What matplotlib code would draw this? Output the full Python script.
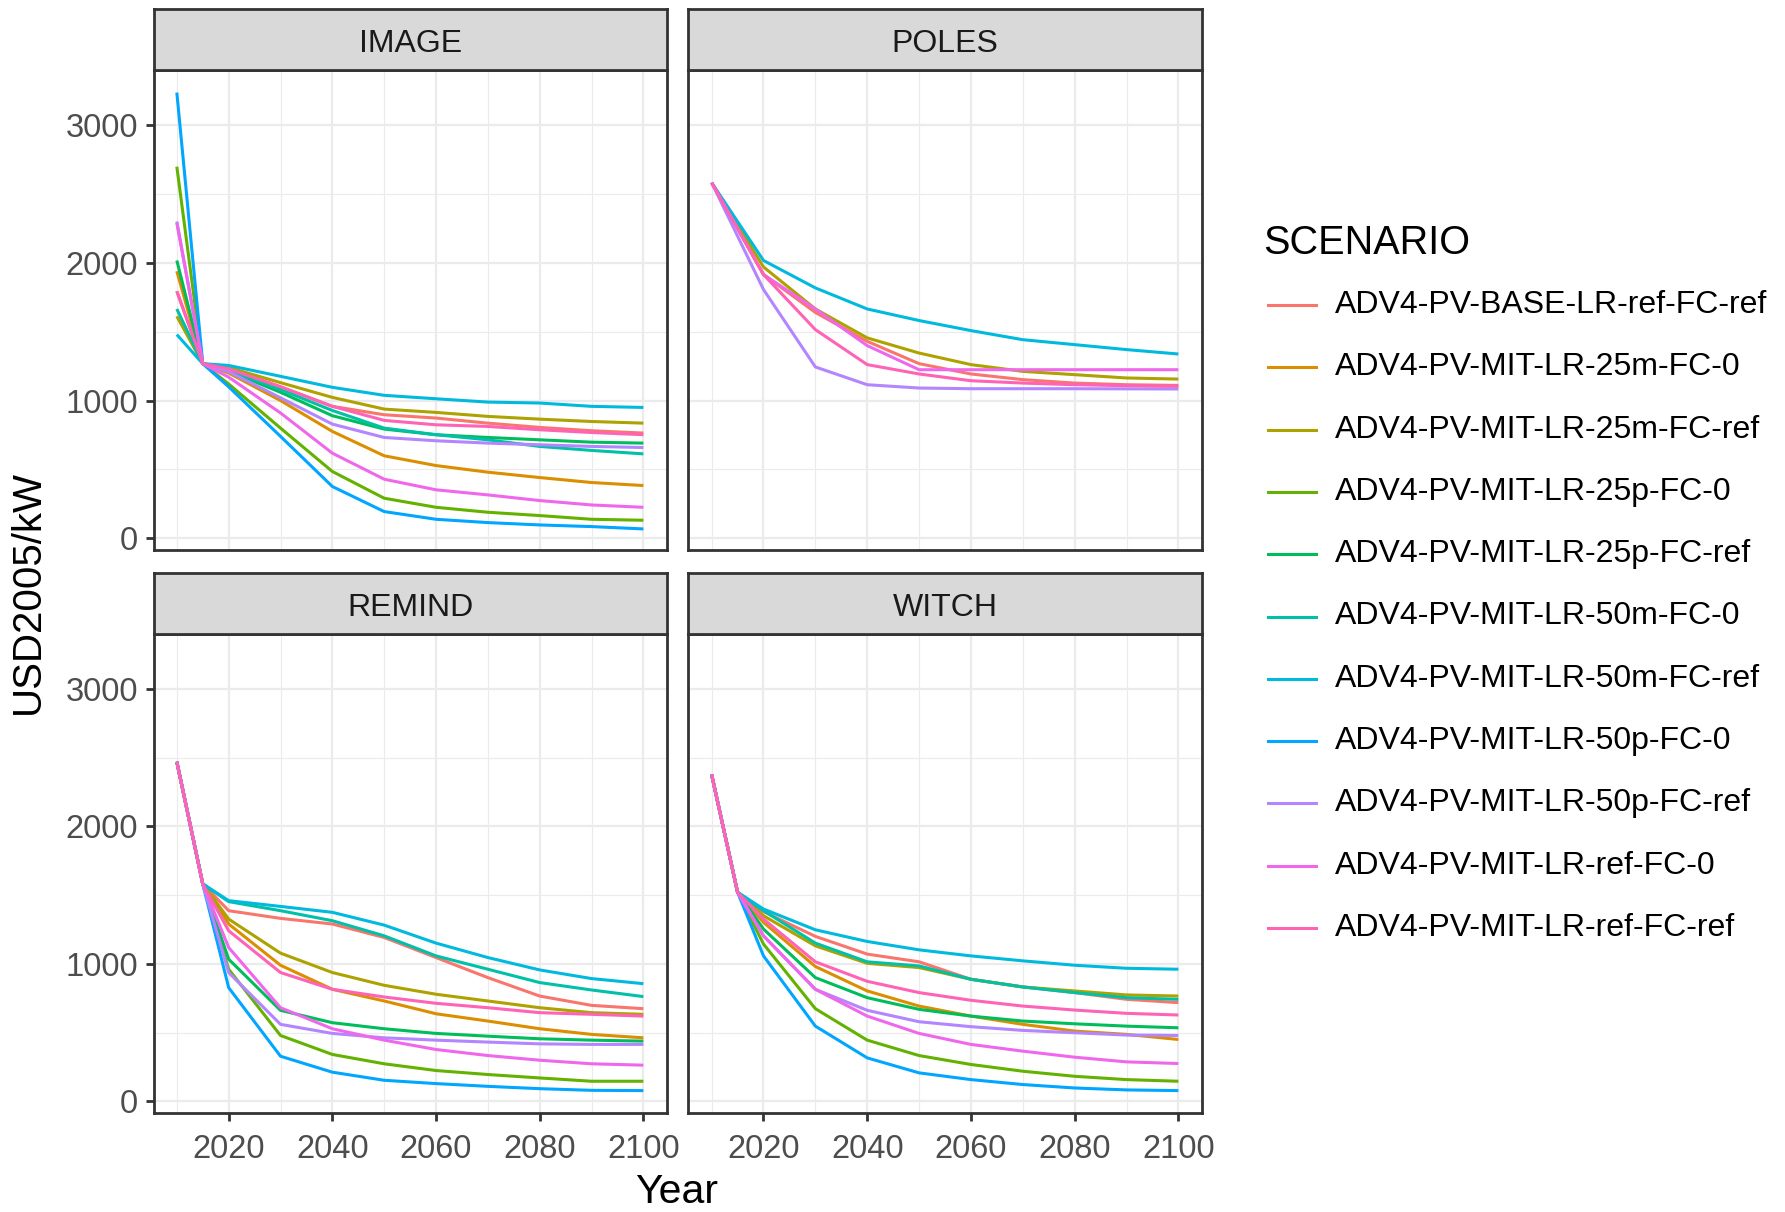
import numpy as np
import matplotlib
matplotlib.use("Agg")
import matplotlib.pyplot as plt
from matplotlib.ticker import MultipleLocator

plt.rcParams['font.family'] = ['Liberation Sans', 'DejaVu Sans']

years = [2010, 2015, 2020, 2030, 2040, 2050, 2060, 2070, 2080, 2090, 2100]

scenarios = [
    "ADV4-PV-BASE-LR-ref-FC-ref",
    "ADV4-PV-MIT-LR-25m-FC-0",
    "ADV4-PV-MIT-LR-25m-FC-ref",
    "ADV4-PV-MIT-LR-25p-FC-0",
    "ADV4-PV-MIT-LR-25p-FC-ref",
    "ADV4-PV-MIT-LR-50m-FC-0",
    "ADV4-PV-MIT-LR-50m-FC-ref",
    "ADV4-PV-MIT-LR-50p-FC-0",
    "ADV4-PV-MIT-LR-50p-FC-ref",
    "ADV4-PV-MIT-LR-ref-FC-0",
    "ADV4-PV-MIT-LR-ref-FC-ref",
]
colors = ["#F8766D", "#DB8E00", "#AEA200", "#64B200", "#00BD5C", "#00C1A7",
          "#00BADE", "#00A6FF", "#B385FF", "#EF67EB", "#FF63B6"]

nan = np.nan
image = [
    [1794, 1268, 1230, 1100, 958, 897, 873, 836, 805, 781, 764],
    [1939, 1268, 1200, 1000, 776, 599, 528, 480, 441, 405, 383],
    [1612, 1268, 1240, 1130, 1023, 938, 914, 885, 865, 848, 836],
    [2698, 1268, 1120, 800, 485, 291, 225, 189, 165, 138, 131],
    [2017, 1268, 1215, 1060, 890, 793, 752, 732, 715, 698, 691],
    [1665, 1268, 1220, 1080, 928, 800, 752, 715, 667, 638, 613],
    [1479, 1268, 1255, 1176, 1096, 1038, 1013, 989, 982, 958, 950],
    [3236, 1268, 1100, 740, 376, 194, 138, 114, 97, 85, 68],
    [2300, 1268, 1210, 1020, 829, 732, 708, 691, 679, 667, 659],
    [2290, 1268, 1170, 910, 618, 429, 352, 315, 274, 242, 225],
    [1794, 1268, 1230, 1100, 958, 856, 824, 812, 788, 768, 752],
]
poles = [
    [2582, nan, 1915, 1640, 1430, 1268, 1193, 1152, 1127, 1115, 1110],
    [nan] * 11,
    [2582, nan, 1970, 1665, 1455, 1345, 1261, 1212, 1188, 1164, 1156],
    [nan] * 11,
    [nan] * 11,
    [nan] * 11,
    [2582, nan, 2017, 1818, 1665, 1581, 1508, 1442, 1406, 1370, 1338],
    [nan] * 11,
    [2582, nan, 1806, 1244, 1115, 1091, 1086, 1086, 1086, 1085, 1084],
    [2582, nan, 1915, 1665, 1399, 1224, 1224, 1224, 1224, 1224, 1224],
    [2582, nan, 1915, 1515, 1261, 1193, 1144, 1127, 1115, 1108, 1103],
]
remind = [
    [2470, 1582, 1387, 1331, 1290, 1192, 1046, 900, 766, 698, 674],
    [2470, 1582, 1290, 990, 815, 730, 637, 584, 528, 487, 462],
    [2470, 1582, 1326, 1078, 937, 844, 779, 730, 681, 645, 633],
    [2470, 1582, 961, 479, 341, 273, 224, 195, 170, 146, 146],
    [2470, 1582, 1034, 662, 572, 528, 494, 474, 455, 445, 438],
    [2470, 1582, 1453, 1387, 1314, 1204, 1058, 961, 864, 810, 762],
    [2470, 1582, 1460, 1418, 1375, 1282, 1151, 1046, 956, 893, 856],
    [2470, 1582, 827, 328, 212, 153, 129, 109, 92, 80, 78],
    [2470, 1582, 937, 560, 494, 462, 445, 431, 418, 414, 414],
    [2470, 1582, 1119, 681, 528, 445, 377, 333, 299, 273, 263],
    [2470, 1582, 1241, 937, 815, 759, 713, 681, 645, 633, 620],
]
witch = [
    [2377, 1521, 1380, 1200, 1071, 1015, 888, 832, 791, 742, 718],
    [2377, 1521, 1302, 981, 803, 693, 620, 560, 511, 487, 450],
    [2377, 1521, 1350, 1131, 1004, 973, 888, 832, 803, 774, 766],
    [2377, 1521, 1144, 674, 445, 333, 268, 219, 182, 158, 146],
    [2377, 1521, 1253, 900, 754, 669, 620, 584, 564, 547, 535],
    [2377, 1521, 1387, 1151, 1015, 985, 888, 832, 791, 754, 742],
    [2377, 1521, 1399, 1248, 1163, 1102, 1058, 1022, 990, 968, 961],
    [2377, 1521, 1058, 547, 316, 207, 158, 122, 97, 83, 78],
    [2377, 1521, 1204, 815, 662, 579, 543, 516, 499, 482, 479],
    [2377, 1521, 1204, 815, 620, 494, 414, 365, 321, 287, 275],
    [2377, 1521, 1326, 1015, 873, 791, 735, 693, 664, 640, 628],
]

models = ["IMAGE", "POLES", "REMIND", "WITCH"]
model_data = [image, poles, remind, witch]

W, H = 1785, 1212
fig = plt.figure(figsize=(W / 100, H / 100), dpi=100)


def rect(l, t, r, b):
    return [l / W, 1 - b / H, (r - l) / W, (b - t) / H]


cols = [(153.5, 666.7), (688.3, 1201.7)]
rows = [(9, 70, 550), (573, 634, 1113)]
dark = "#333333"

for i, (name, data) in enumerate(zip(models, model_data)):
    l, r = cols[i % 2]
    st, pt, pb = rows[i // 2]

    ax = fig.add_axes(rect(l, pt, r, pb))
    for k, vals in enumerate(data):
        v = np.array(vals, dtype=float)
        m = ~np.isnan(v)
        if m.any():
            ax.plot(np.array(years)[m], v[m], color=colors[k], lw=2.2,
                    solid_capstyle="butt", zorder=3)
    ax.set_xlim(2005.5, 2104.5)
    ax.set_ylim(-85, 3400)
    ax.xaxis.set_major_locator(MultipleLocator(20))
    ax.xaxis.set_minor_locator(MultipleLocator(10))
    ax.yaxis.set_major_locator(MultipleLocator(1000))
    ax.yaxis.set_minor_locator(MultipleLocator(500))
    ax.grid(which="major", color="#EBEBEB", lw=1.6, zorder=0)
    ax.grid(which="minor", color="#EBEBEB", lw=0.8, zorder=0)
    ax.set_axisbelow(True)
    for s in ax.spines.values():
        s.set_color(dark)
        s.set_linewidth(2)
    ax.tick_params(which="minor", length=0)
    ax.tick_params(which="major", color=dark, width=2, length=6,
                   labelsize=23.5, labelcolor="#4D4D4D", pad=5)
    ax.tick_params(axis="x", which="major", pad=9)
    if i // 2 == 0:
        ax.tick_params(axis="x", which="major", length=0, labelbottom=False)
    if i % 2 == 1:
        ax.tick_params(axis="y", which="major", length=0, labelleft=False)

    sax = fig.add_axes(rect(l, st, r, pt))
    sax.set_facecolor("#D9D9D9")
    sax.set_xticks([])
    sax.set_yticks([])
    for s in sax.spines.values():
        s.set_color(dark)
        s.set_linewidth(2)
    sax.text(0.5, 0.42, name, ha="center", va="center", fontsize=23,
             color="#1A1A1A", transform=sax.transAxes)

fig.text(677 / W, 1 - 1203 / H, "Year", ha="center", va="baseline", fontsize=29.5)
fig.text(28 / W, 1 - 592 / H, "USD2005/kW", ha="center", va="center",
         fontsize=29, rotation=90)

# legend
fig.text(1263 / W, 1 - 243 / H, "SCENARIO", ha="left", va="center", fontsize=28.5)
for k, name in enumerate(scenarios):
    y = 1 - (305 + k * 62.3) / H
    fig.add_artist(plt.Line2D([1268 / W, 1316 / W], [y, y], color=colors[k],
                              lw=2.2, transform=fig.transFigure))
    fig.text(1335 / W, y, name, ha="left", va="center", fontsize=23)

fig.savefig("out.png", dpi=100)
